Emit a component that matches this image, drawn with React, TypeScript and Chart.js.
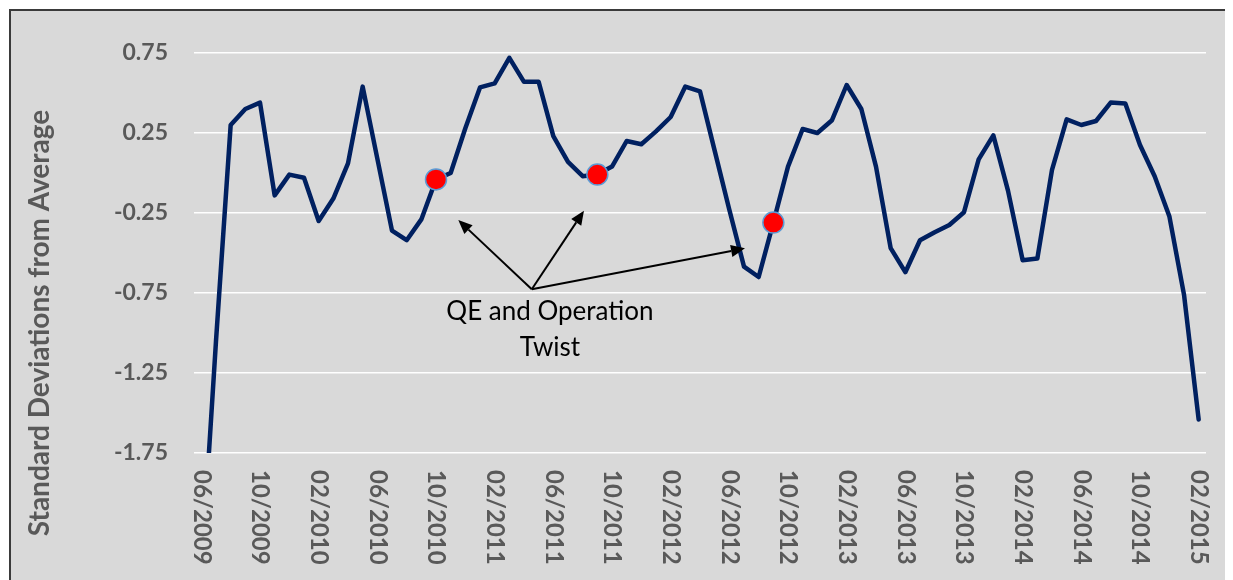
import React, { useEffect, useRef } from "react";
import { Chart, registerables } from "chart.js";

Chart.register(...registerables);

// ---- data ----
const categories = [
  "06/2009", "07/2009", "08/2009", "09/2009", "10/2009", "11/2009", "12/2009",
  "01/2010", "02/2010", "03/2010", "04/2010", "05/2010", "06/2010", "07/2010", "08/2010", "09/2010", "10/2010", "11/2010", "12/2010",
  "01/2011", "02/2011", "03/2011", "04/2011", "05/2011", "06/2011", "07/2011", "08/2011", "09/2011", "10/2011", "11/2011", "12/2011",
  "01/2012", "02/2012", "03/2012", "04/2012", "05/2012", "06/2012", "07/2012", "08/2012", "09/2012", "10/2012", "11/2012", "12/2012",
  "01/2013", "02/2013", "03/2013", "04/2013", "05/2013", "06/2013", "07/2013", "08/2013", "09/2013", "10/2013", "11/2013", "12/2013",
  "01/2014", "02/2014", "03/2014", "04/2014", "05/2014", "06/2014", "07/2014", "08/2014", "09/2014", "10/2014", "11/2014", "12/2014",
  "01/2015", "02/2015",
];

const seriesValues = [
  -2.5, -1.05, 0.30, 0.40, 0.44, -0.14, -0.01, -0.03, -0.30, -0.16, 0.06, 0.54, 0.09,
  -0.36, -0.42, -0.29, -0.04, 0.00, 0.28, 0.535, 0.56, 0.72, 0.57, 0.57, 0.23, 0.07,
  -0.02, -0.01, 0.04, 0.20, 0.18, 0.26, 0.35, 0.54, 0.51, 0.14, -0.23, -0.585, -0.65,
  -0.31, 0.04, 0.275, 0.25, 0.33, 0.55, 0.40, 0.04, -0.47, -0.62, -0.42, -0.37, -0.325,
  -0.245, 0.085, 0.235, -0.11, -0.545, -0.535, 0.02, 0.335, 0.30, 0.325, 0.44, 0.435,
  0.175, -0.02, -0.27, -0.76, -1.54,
];

const qeMonths = ["10/2010", "09/2011", "09/2012"];
const qeValues = [-0.04, -0.01, -0.31];

const xTickLabels = [
  "06/2009", "10/2009", "02/2010", "06/2010", "10/2010", "02/2011", "06/2011", "10/2011", "02/2012",
  "06/2012", "10/2012", "02/2013", "06/2013", "10/2013", "02/2014", "06/2014", "10/2014", "02/2015",
];

const yMin = -1.75;
const yMax = 0.75;
const yStep = 0.5;

const yTitle = "Standard Deviations from Average";
const annotationLines = ["QE and Operation", "Twist"];
// annotation anchors in data space: [category index, value]
const annotationOrigin = [22.53, -0.727];
const annotationTargets = [
  [17.52, -0.294],
  [26.09, -0.236],
  [37.07, -0.471],
];
const annotationTextAnchor = [23.77, -0.919];
const annotationLineGap = -0.225;

const W = 1225;
const H = 572;

function drawArrow(ctx: CanvasRenderingContext2D, x0: number, y0: number, x1: number, y1: number) {
  const ang = Math.atan2(y1 - y0, x1 - x0);
  const L = 14;
  const w = 6;
  const bx = x1 - L * Math.cos(ang);
  const by = y1 - L * Math.sin(ang);
  ctx.beginPath();
  ctx.moveTo(x0, y0);
  ctx.lineTo(bx, by);
  ctx.stroke();
  ctx.beginPath();
  ctx.moveTo(x1, y1);
  ctx.lineTo(bx + w * Math.sin(ang), by - w * Math.cos(ang));
  ctx.lineTo(bx - w * Math.sin(ang), by + w * Math.cos(ang));
  ctx.closePath();
  ctx.fill();
}

const decorPlugin = {
  id: "decor",
  beforeDraw(chart: any) {
    const ctx = chart.ctx as CanvasRenderingContext2D;
    ctx.save();
    ctx.fillStyle = "#ffffff";
    ctx.fillRect(0, 0, W, H);
    ctx.fillStyle = "#d9d9d9";
    ctx.fillRect(2, 2, 1221, H);
    ctx.strokeStyle = "#3a3a3a";
    ctx.lineWidth = 2;
    ctx.strokeRect(2, 2, 1221, H + 20);
    ctx.restore();
  },
  afterDraw(chart: any) {
    const ctx = chart.ctx as CanvasRenderingContext2D;
    const xs = chart.scales.x;
    const ys = chart.scales.y;
    const area = chart.chartArea;

    // x tick labels, rotated clockwise
    ctx.save();
    ctx.font = "bold 24px Lato";
    ctx.fillStyle = "#595959";
    ctx.textAlign = "left";
    ctx.textBaseline = "middle";
    xTickLabels.forEach((lbl) => {
      const i = categories.indexOf(lbl);
      const x = xs.getPixelForValue(i);
      ctx.save();
      ctx.translate(x, area.bottom + 17);
      ctx.rotate(Math.PI / 2);
      ctx.fillText(lbl, 0, 0);
      ctx.restore();
    });
    ctx.restore();

    // y title
    ctx.save();
    ctx.font = "bold 28px Lato";
    ctx.fillStyle = "#595959";
    ctx.textAlign = "center";
    ctx.textBaseline = "middle";
    ctx.translate(32, 315);
    ctx.rotate(-Math.PI / 2);
    ctx.fillText(yTitle, 0, 0);
    ctx.restore();

    // annotation
    ctx.save();
    ctx.strokeStyle = "#000000";
    ctx.fillStyle = "#000000";
    ctx.lineWidth = 2;
    const ox = xs.getPixelForValue(annotationOrigin[0]);
    const oy = ys.getPixelForValue(annotationOrigin[1]);
    annotationTargets.forEach(([ti, tv]) => {
      drawArrow(ctx, ox, oy, xs.getPixelForValue(ti), ys.getPixelForValue(tv));
    });
    ctx.font = "26px Lato";
    ctx.textAlign = "center";
    ctx.textBaseline = "alphabetic";
    annotationLines.forEach((line, k) => {
      ctx.fillText(
        line,
        xs.getPixelForValue(annotationTextAnchor[0]),
        ys.getPixelForValue(annotationTextAnchor[1] + k * annotationLineGap)
      );
    });
    ctx.restore();
  },
};

export default function App() {
  const ref = useRef<HTMLCanvasElement | null>(null);

  useEffect(() => {
    if (!ref.current) return;
    const markerData = categories.map((c) => {
      const k = qeMonths.indexOf(c);
      return k >= 0 ? qeValues[k] : null;
    });
    const chart = new Chart(ref.current, {
      type: "line",
      data: {
        labels: categories,
        datasets: [
          {
            label: "QE and Operation Twist",
            data: markerData,
            showLine: false,
            pointRadius: 10.5,
            pointBorderWidth: 1.5,
            pointBackgroundColor: "#ff0000",
            pointBorderColor: "#5b9bd5",
          },
          {
            label: "Standard Deviations from Average",
            data: seriesValues,
            borderColor: "#002060",
            borderWidth: 4.5,
            pointRadius: 0,
            tension: 0,
            borderJoinStyle: "round",
            borderCapStyle: "round",
          },
        ],
      },
      options: {
        responsive: false,
        animation: false,
        devicePixelRatio: 1,
        layout: { padding: { left: 0, right: 27, top: 45, bottom: 0 } },
        plugins: {
          legend: { display: false },
          tooltip: { enabled: false },
        },
        scales: {
          x: {
            type: "category",
            offset: true,
            grid: { display: false, drawTicks: false },
            border: { display: false },
            ticks: { display: false },
            afterFit: (s: any) => {
              s.height = 127;
            },
          },
          y: {
            min: yMin,
            max: yMax,
            ticks: {
              stepSize: yStep,
              padding: 26,
              color: "#595959",
              font: { family: "Lato", weight: "bold", size: 23 },
              callback: (v: any) => Number(v).toFixed(2),
            },
            grid: { color: "#ffffff", lineWidth: 1.5, drawTicks: false },
            border: { display: false },
            afterFit: (s: any) => {
              s.width = 186;
            },
          },
        },
      },
      plugins: [decorPlugin],
    } as any);
    return () => chart.destroy();
  }, []);

  return <canvas ref={ref} width={W} height={H} style={{ display: "block", width: W, height: H }} />;
}
